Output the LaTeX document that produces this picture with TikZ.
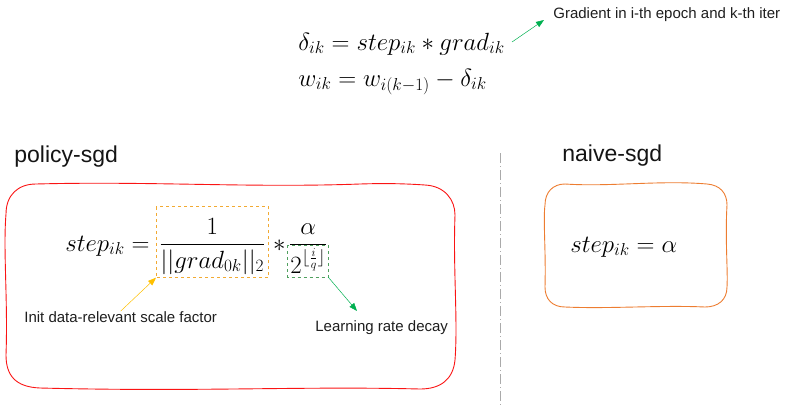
\documentclass[tikz,border=0pt]{standalone}
\usepackage{amsmath}
\usepackage{fontspec}
\newfontfamily\notefont{Liberation Sans}
\usetikzlibrary{arrows.meta,calc}

\definecolor{boxred}{RGB}{250,20,20}
\definecolor{boxorange}{RGB}{237,125,49}
\definecolor{scaleorange}{RGB}{242,170,50}
\definecolor{arroworange}{RGB}{255,192,0}
\definecolor{decaygreen}{RGB}{80,160,95}
\definecolor{arrowgreen}{RGB}{0,176,80}
\definecolor{sepgray}{RGB}{170,170,170}

\tikzset{every picture/.style={line width=0.75pt}}
\tikzset{
  formula/.style={font=\fontsize{24}{28}\selectfont, inner sep=2pt},
  note/.style={font=\notefont\fontsize{15}{18}\selectfont, text={rgb,255:red,30;green,30;blue,30}, inner sep=0pt},
  title/.style={font=\notefont\fontsize{23}{27}\selectfont, text={rgb,255:red,20;green,20;blue,20}, inner sep=0pt},
  scalebox/.style={draw=scaleorange, dashed, line width=0.7pt},
  decaybox/.style={draw=decaygreen, dashed, line width=0.9pt},
  orangearrow/.style={draw=arroworange, line width=0.5pt, -{Triangle[length=8pt,width=6pt]}},
  greenarrow/.style={draw=arrowgreen, line width=0.5pt, -{Triangle[length=8pt,width=6pt]}},
}

\begin{document}
\begin{tikzpicture}[x=1pt,y=1pt,yscale=-1,xscale=1]
	\useasboundingbox (0,0) rectangle (800,405);

	% Text Node
	\node[formula, anchor=base west] (delta) at (296,50) {$\delta_{ik} = step_{ik} * grad_{ik}$};
	% Text Node
	\node[formula, anchor=base west] (update) at (296,86) {$w_{ik} = w_{i(k-1)} - \delta_{ik}$};
	% Text Node
	\node[note, anchor=west] (gradnote) at (553,15) {Gradient in i-th epoch and k-th iter};
	%Straight Lines
	\coordinate (gradtail) at (512,42);
	\coordinate (gradtip) at (544,20);
	\draw[greenarrow] (gradtail) -- (gradtip);

	% Text Node
	\node[title, anchor=west] (policy) at (14,157) {policy-sgd};
	% Text Node
	\node[title, anchor=west] (naive) at (562,156) {naive-sgd};

	%Shape: Wavy Box (policy-sgd)
	\draw[boxred, line width=0.9pt] (36,184) .. controls (150,181) and (250,188) .. (360,184)
		.. controls (390,183) and (410,184) .. (425,185)
		.. controls (445,186) and (455,200) .. (455,215)
		.. controls (453,270) and (458,320) .. (455,360)
		.. controls (453,380) and (440,389) .. (420,389)
		.. controls (300,386) and (200,392) .. (40,388)
		.. controls (15,387) and (6,375) .. (6,355)
		.. controls (8,300) and (3,250) .. (6,214)
		.. controls (6,195) and (18,184) .. (36,184) -- cycle;
	%Shape: Wavy Box (naive-sgd)
	\draw[boxorange, line width=0.9pt] (565,184) .. controls (610,187) and (660,180) .. (707,184)
		.. controls (720,185) and (727,193) .. (727,205)
		.. controls (725,240) and (728,270) .. (727,287)
		.. controls (727,300) and (718,307) .. (705,307)
		.. controls (660,305) and (610,309) .. (565,307)
		.. controls (552,307) and (545,299) .. (545,287)
		.. controls (546,250) and (543,220) .. (545,205)
		.. controls (545,192) and (553,184) .. (565,184) -- cycle;
	%Straight Lines
	\draw[sepgray, dash pattern={on 10pt off 3pt on 1pt off 3pt}] (500,153) -- (500,405);

	% Text Node
	\node[formula, anchor=base west] (steplhs) at (63,251) {$step_{ik} =$};
	% Text Node
	\node[formula, inner sep=3pt, anchor=base west] (scale) at ($(steplhs.base east)+(4,0)$) {$\dfrac{1}{||grad_{0k}||_2}$};
	%Shape: Rectangle
	\draw[scalebox] ($(scale.north west)+(0,-8)$) rectangle (scale.south east);
	% Text Node
	\node[formula, inner sep=1pt, anchor=base west] (star) at ($(scale.base east)+(3,0)$) {$*$};
	% Text Node
	\node[formula, inner sep=1pt, anchor=base west] (decay) at ($(star.base east)+(1,0)$) {$\dfrac{\alpha}{2^{\lfloor \frac{i}{q} \rfloor}}$};
	%Shape: Rectangle
	\coordinate (decaytop) at ($(decay.base west)+(0,-6)$);
	\coordinate (decaycorner) at ($(decay.south east)+(0,2)$);
	\draw[decaybox] (decaytop) rectangle (decaycorner);

	% Text Node
	\node[note, anchor=west] (scalenote) at (24,317) {Init data-relevant scale factor};
	%Straight Lines
	\draw[orangearrow] (scalenote.north) -- (scale.south west);
	% Text Node
	\node[note, anchor=west] (decaynote) at (315,328) {Learning rate decay};
	%Straight Lines
	\coordinate (decaytip) at (357,311);
	\draw[greenarrow] (decaycorner) -- (decaytip);

	% Text Node
	\node[formula, anchor=base west] (naivestep) at (568,252) {$step_{ik} = \alpha$};
\end{tikzpicture}
\end{document}
